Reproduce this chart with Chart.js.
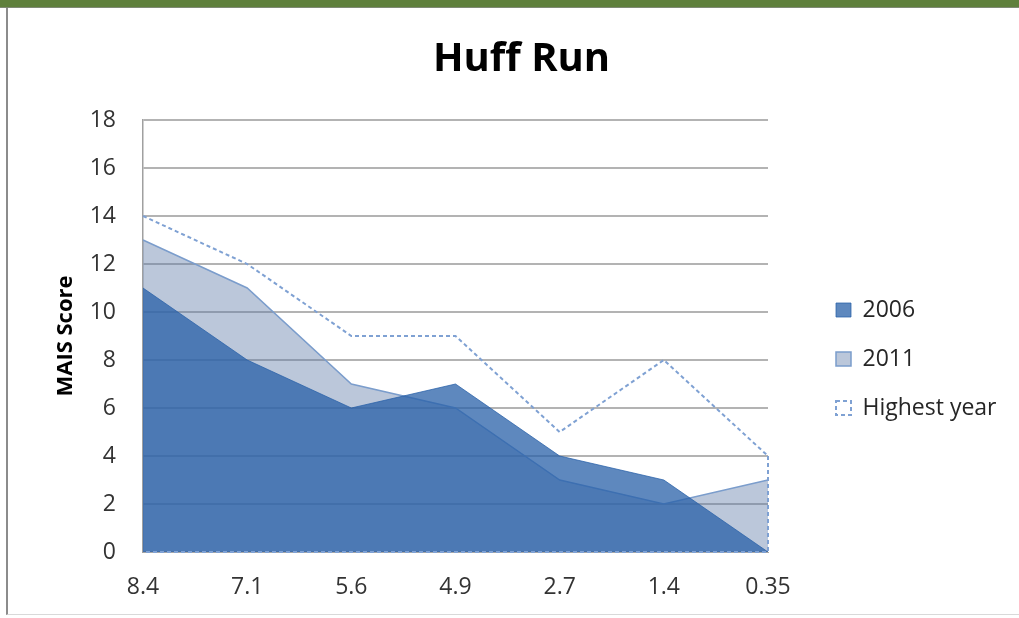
<!DOCTYPE html>
<html>
<head>
<meta charset="utf-8">
<title>Huff Run</title>
<script src="https://cdn.jsdelivr.net/npm/chart.js@4.4.1/dist/chart.umd.min.js"></script>
<style>
  html, body { margin: 0; padding: 0; background: #ffffff; }
  #wrap { position: relative; width: 1019px; height: 618px; overflow: hidden; }
  #frame { position: absolute; left: 6px; top: 8px; width: 1013px; height: 606px;
           border-left: 2px solid #8c8c8c; border-bottom: 1px solid #d9d9d9; }
  #topbar { position: absolute; left: 0; top: 0; width: 1019px; height: 7px;
            background: #5f803c; border-bottom: 1px solid #7f8a74; }
  #chart { position: absolute; left: 0; top: 0; }
</style>
</head>
<body>
<div id="wrap">
  <div id="frame"></div>
  <canvas id="chart" width="1019" height="618"></canvas>
  <div id="topbar"></div>
</div>
<script>
// ---- chart content ----
const chartTitle = 'Huff Run';
const yAxisTitle = 'MAIS Score';
const categories = ['8.4', '7.1', '5.6', '4.9', '2.7', '1.4', '0.35'];
const seriesNames = ['2006', '2011', 'Highest year'];
const values2006 = [11, 8, 6, 7, 4, 3, 0];
const values2011 = [13, 11, 7, 6, 3, 2, 3];
const valuesHighest = [14, 12, 9, 9, 5, 8, 4];
const yMin = 0;
const yMax = 18;
const yStep = 2;

// ---- layout ----
const PLOT_LEFT = 143;
const PLOT_RIGHT = 768;
const PLOT_BOTTOM = 552;
const CANVAS_W = 1019;
const CANVAS_H = 618;
const LEFT_PAD = 24;
const LEGEND_GAP = 42;

Chart.defaults.font.family = "'Open Sans', 'Liberation Sans', sans-serif";
Chart.defaults.color = '#333333';

// Strokes the closing edges (down to zero at the end, then back along the baseline)
// of outline-only areas.
const closeOutline = {
  id: 'closeOutline',
  afterDatasetsDraw(chart) {
    const ctx = chart.ctx;
    const y = chart.scales.y;
    chart.data.datasets.forEach((ds, i) => {
      if (!ds.closeToBaseline) return;
      const meta = chart.getDatasetMeta(i);
      if (meta.hidden || !meta.data.length) return;
      const first = meta.data[0];
      const last = meta.data[meta.data.length - 1];
      const base = y.getPixelForValue(0);
      ctx.save();
      ctx.strokeStyle = ds.borderColor;
      ctx.lineWidth = ds.borderWidth;
      ctx.setLineDash(ds.borderDash || []);
      ctx.beginPath();
      ctx.moveTo(last.x, last.y);
      ctx.lineTo(last.x, base);
      ctx.lineTo(first.x, base);
      ctx.stroke();
      ctx.restore();
    });
  }
};

// Gives the legend a fixed slot width at the right.
const legendSlot = {
  id: 'legendSlot',
  beforeLayout(chart) {
    const lg = chart.legend;
    if (!lg || lg._slotFixed) return;
    lg._slotFixed = true;
    const fit = lg.fit;
    lg.fit = function () {
      fit.call(this);
      this.width = CANVAS_W - PLOT_RIGHT - LEGEND_GAP;
    };
  }
};

new Chart(document.getElementById('chart'), {
  type: 'line',
  data: {
    labels: categories,
    datasets: [
      {
        label: seriesNames[0],
        data: values2006,
        fill: 'origin',
        backgroundColor: 'rgba(40, 96, 168, 0.75)',
        borderColor: 'rgba(40, 96, 168, 0.75)',
        borderWidth: 1,
        pointRadius: 0,
        tension: 0
      },
      {
        label: seriesNames[1],
        data: values2011,
        fill: 'origin',
        backgroundColor: 'rgba(92, 122, 166, 0.42)',
        borderColor: '#7b9dcc',
        borderWidth: 1.5,
        pointRadius: 0,
        tension: 0
      },
      {
        label: seriesNames[2],
        data: valuesHighest,
        fill: false,
        backgroundColor: 'rgba(255, 255, 255, 0)',
        borderColor: '#7fa1d3',
        borderWidth: 2,
        borderDash: [4, 3],
        pointRadius: 0,
        tension: 0,
        closeToBaseline: true
      }
    ]
  },
  options: {
    responsive: false,
    animation: false,
    layout: { padding: { left: LEFT_PAD, right: 0, top: 0, bottom: 0 } },
    plugins: {
      title: {
        display: true,
        text: chartTitle,
        color: '#000000',
        font: { size: 40, weight: 'bold' },
        padding: { top: 36, bottom: 36 }
      },
      legend: {
        position: 'right',
        fullSize: false,
        align: 'center',
        title: { display: true, text: '', font: { size: 10 }, padding: { top: 34, bottom: 0 } },
        labels: {
          boxWidth: 15,
          boxHeight: 14,
          padding: 26,
          color: '#262626',
          font: { size: 23 }
        }
      },
      tooltip: { enabled: false }
    },
    scales: {
      x: {
        type: 'category',
        offset: false,
        grid: { display: false, drawTicks: false },
        border: { display: true, color: '#a6a6a6', width: 1 },
        ticks: { padding: 22, color: '#333333', font: { size: 23 }, maxRotation: 0, autoSkip: false },
        afterFit: s => { s.height = CANVAS_H - PLOT_BOTTOM; }
      },
      y: {
        min: yMin,
        max: yMax,
        grid: { color: '#b3b3b3', lineWidth: 2, drawTicks: false },
        border: { display: true, color: '#a0a0a0', width: 1.5 },
        ticks: { stepSize: yStep, padding: 27, color: '#333333', font: { size: 23 } },
        title: {
          display: true,
          text: yAxisTitle,
          color: '#000000',
          font: { size: 22, weight: 'bold' },
          padding: { top: 29, bottom: 0 }
        },
        afterFit: s => { s.width = PLOT_LEFT - LEFT_PAD; }
      },
      gap: {
        type: 'linear',
        position: 'right',
        display: true,
        grid: { display: false, drawTicks: false },
        border: { display: false },
        ticks: { display: false },
        afterFit: s => { s.width = LEGEND_GAP; }
      }
    }
  },
  plugins: [closeOutline, legendSlot]
});
</script>
</body>
</html>
